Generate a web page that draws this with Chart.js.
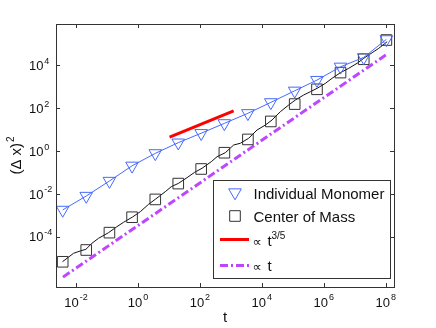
<!DOCTYPE html>
<html>
<head>
<meta charset="utf-8">
<script src="https://cdn.jsdelivr.net/npm/chart.js@4.4.0/dist/chart.umd.min.js"></script>
<style>body{margin:0;background:#fff}</style>
</head>
<body>
<canvas id="myChart" width="436" height="328"></canvas>
<script>
// times where the markers sit (same for both series)
var tMarks = [0.00372, 0.0214, 0.120, 0.646, 3.63, 20.0, 110, 617, 3550, 19500, 1.15e5, 6.03e5, 3.47e6, 1.95e7, 1.05e8];
var monomer = [0.00178, 0.00794, 0.0398, 0.204, 0.776, 2.45, 6.76, 19.5, 57.5, 186, 646, 2040, 8510, 23400, 1.62e5];
var centerMass = [6.76e-6, 2.40e-5, 1.55e-4, 8.13e-4, 5.50e-3, 0.0302, 0.145, 0.832, 3.47, 24.0, 155, 759, 4570, 19100, 1.51e5];

// the black trace of the center of mass
var tTrace = [3.66e-3, 8.30e-3, 1.37e-2, 2.09e-2, 3.27e-2, 5.33e-2, 0.112, 0.209, 0.343, 0.670, 1.19, 2.20, 3.62, 7.62, 11.9,
  20.5, 38.3, 67.5, 117, 233, 357, 662, 1230, 2020, 3750, 7000, 1.30e4, 2.14e4, 3.96e4, 7.35e4, 1.21e5, 2.24e5, 3.69e5,
  6.07e5, 1.13e6, 1.85e6, 3.44e6, 6.38e6, 1.19e7, 1.95e7, 3.64e7, 5.94e7, 1.11e8];
var cmTrace = [6.82e-6, 1.68e-5, 2.16e-5, 2.59e-5, 4.93e-5, 8.43e-5, 1.54e-4, 2.94e-4, 4.71e-4, 8.32e-4, 1.47e-3, 3.26e-3, 5.57e-3, 1.26e-2, 2.16e-2,
  3.11e-2, 5.68e-2, 0.101, 0.156, 0.317, 0.542, 0.834, 1.91, 2.29, 3.92, 9.55, 16.3, 28.0, 68.2, 140, 240, 410, 585,
  843, 1440, 2470, 4510, 7230, 1.24e4, 2.12e4, 3.86e4, 6.19e4, 1.26e5];

// guide lines
var tRed = [10.5, 1230];
var yRed = [4.4, 74];
var tPurple = [0.0038, 1e8];
var yPurple = [1.3e-6, 3e4];

var xTicks = [1e-2, 1, 1e2, 1e4, 1e6, 1e8];
var xTickExp = ['-2', '0', '2', '4', '6', '8'];
var yTicks = [1e-4, 1e-2, 1, 1e2, 1e4];
var yTickExp = ['-4', '-2', '0', '2', '4'];

var blue = 'rgb(70,105,255)';
var purple = 'rgb(190,70,255)';
var fontName = '"Liberation Sans", Arial, sans-serif';

function toXY(xs, ys) {
    return xs.map((x, i) => ({x: x, y: ys[i]}));
}

var framePlugin = {
    id: 'frame',
    afterDatasetsDraw(chart) {
        let ctx = chart.ctx;
        let a = chart.chartArea;
        let xs = chart.scales.x;
        let ys = chart.scales.y;
        ctx.save();
        ctx.strokeStyle = '#333';
        ctx.lineWidth = 1;
        ctx.strokeRect(Math.round(a.left) + 0.5, Math.round(a.top) + 0.5, Math.round(a.right - a.left), Math.round(a.bottom - a.top));

        // tick marks inside the box, all four sides
        ctx.beginPath();
        xTicks.forEach(v => {
            let px = Math.round(xs.getPixelForValue(v)) + 0.5;
            ctx.moveTo(px, a.bottom); ctx.lineTo(px, a.bottom - 4);
            ctx.moveTo(px, a.top); ctx.lineTo(px, a.top + 4);
        });
        yTicks.forEach(v => {
            let py = Math.round(ys.getPixelForValue(v)) + 0.5;
            ctx.moveTo(a.left, py); ctx.lineTo(a.left + 4, py);
            ctx.moveTo(a.right, py); ctx.lineTo(a.right - 4, py);
        });
        ctx.stroke();

        // tick labels 10^n
        ctx.fillStyle = '#111';
        ctx.textBaseline = 'alphabetic';
        xTicks.forEach((v, i) => {
            let px = xs.getPixelForValue(v);
            ctx.font = '13px ' + fontName;
            let w1 = ctx.measureText('10').width;
            ctx.font = '9px ' + fontName;
            let w2 = ctx.measureText(xTickExp[i]).width;
            let x0 = px - (w1 + w2 + 1) / 2;
            ctx.textAlign = 'left';
            ctx.font = '13px ' + fontName;
            ctx.fillText('10', x0, a.bottom + 19.5);
            ctx.font = '9px ' + fontName;
            ctx.fillText(xTickExp[i], x0 + w1 + 1, a.bottom + 13);
        });
        yTicks.forEach((v, i) => {
            let py = ys.getPixelForValue(v);
            ctx.font = '13px ' + fontName;
            ctx.textAlign = 'right';
            ctx.fillText('10', 43.5, py + 4.7);
            ctx.font = '9px ' + fontName;
            ctx.textAlign = 'left';
            ctx.fillText(yTickExp[i], 44.3, py - 1.5);
        });

        // axis titles
        ctx.font = '15px ' + fontName;
        ctx.textAlign = 'center';
        ctx.fillText('t', (a.left + a.right) / 2, 322);

        ctx.save();
        ctx.translate(21, (a.top + a.bottom) / 2);
        ctx.rotate(-Math.PI / 2);
        ctx.font = '15px ' + fontName;
        let wm = ctx.measureText('(\u0394 x)').width;
        ctx.font = '10px ' + fontName;
        let we = ctx.measureText('2').width;
        let s = -(wm + we + 1) / 2;
        ctx.textAlign = 'left';
        ctx.font = '15px ' + fontName;
        ctx.fillText('(\u0394 x)', s, 0);
        ctx.font = '10px ' + fontName;
        ctx.fillText('2', s + wm + 1, -7);
        ctx.restore();

        // legend
        let bx = 213.5, by = 180.5, bw = 177, bh = 98;
        ctx.fillStyle = '#fff';
        ctx.fillRect(bx, by, bw, bh);
        ctx.strokeStyle = '#333';
        ctx.strokeRect(bx, by, bw, bh);

        ctx.fillStyle = 'rgba(0,0,0,0)';
        ctx.strokeStyle = blue;
        ctx.lineWidth = 1;
        Chart.helpers.drawPoint(ctx, {pointStyle: 'triangle', rotation: 180, radius: 7.3, borderWidth: 1}, 235, 192.5);
        ctx.strokeStyle = '#333';
        Chart.helpers.drawPoint(ctx, {pointStyle: 'rect', rotation: 0, radius: 7.5, borderWidth: 1}, 235, 216);

        ctx.lineWidth = 3;
        ctx.strokeStyle = 'rgb(255,0,0)';
        ctx.beginPath();
        ctx.moveTo(220, 239.5); ctx.lineTo(249, 239.5);
        ctx.stroke();
        ctx.strokeStyle = purple;
        ctx.setLineDash([8, 3, 2, 3]);
        ctx.beginPath();
        ctx.moveTo(220, 265.5); ctx.lineTo(249, 265.5);
        ctx.stroke();
        ctx.setLineDash([]);

        ctx.fillStyle = '#111';
        ctx.textAlign = 'left';
        ctx.font = '15px ' + fontName;
        ctx.fillText('Individual Monomer', 253.5, 199);
        ctx.fillText('Center of Mass', 253.5, 221.5);
        ctx.font = '13px "DejaVu Sans", sans-serif';
        ctx.fillText('\u221D', 252.5, 246);
        ctx.font = '15px ' + fontName;
        ctx.fillText('t', 267.5, 246);
        ctx.font = '10px ' + fontName;
        ctx.fillText('3/5', 271.5, 239);
        ctx.font = '13px "DejaVu Sans", sans-serif';
        ctx.fillText('\u221D', 252.5, 271);
        ctx.font = '15px ' + fontName;
        ctx.fillText('t', 267.5, 271);
        ctx.restore();
    }
};

var ctx = document.getElementById('myChart').getContext('2d');
var myChart = new Chart(ctx, {
    type: 'scatter',
    data: {
        datasets: [{
            label: 'Individual Monomer',
            data: toXY(tMarks, monomer),
            showLine: true,
            borderColor: blue,
            borderWidth: 1,
            pointStyle: 'triangle',
            rotation: 180,
            pointRadius: 7.3,
            pointBorderWidth: 1,
            pointBorderColor: blue,
            pointBackgroundColor: 'rgba(0,0,0,0)',
            order: 1
        },
        {
            label: 'Center of Mass',
            data: toXY(tMarks, centerMass),
            showLine: false,
            pointStyle: 'rect',
            pointRadius: 7.5,
            pointBorderWidth: 1,
            pointBorderColor: '#333',
            pointBackgroundColor: 'rgba(0,0,0,0)',
            order: 2
        },
        {
            label: 'trace',
            data: toXY(tTrace, cmTrace),
            showLine: true,
            borderColor: '#111',
            borderWidth: 1,
            pointRadius: 0,
            order: 3
        },
        {
            label: 't^3/5',
            data: toXY(tRed, yRed),
            showLine: true,
            borderColor: 'rgb(255,0,0)',
            borderWidth: 3,
            pointRadius: 0,
            order: 4
        },
        {
            label: 't',
            data: toXY(tPurple, yPurple),
            showLine: true,
            borderColor: purple,
            borderWidth: 3,
            borderDash: [8, 3, 2, 3],
            pointRadius: 0,
            order: 5
        }]
    },
    options: {
        responsive: false,
        animation: false,
        layout: {padding: {left: 0, top: 24, right: 42, bottom: 0}},
        plugins: {legend: {display: false}, tooltip: {enabled: false}},
        scales: {
            x: {
                type: 'logarithmic',
                min: 2.26e-3,
                max: 1.85e8,
                grid: {display: false},
                border: {display: false},
                ticks: {display: false},
                afterFit: s => { s.height = 41; }
            },
            y: {
                type: 'logarithmic',
                min: 4.5e-7,
                max: 8.46e5,
                grid: {display: false},
                border: {display: false},
                ticks: {display: false},
                afterFit: s => { s.width = 56; }
            }
        }
    },
    plugins: [framePlugin]
});
</script>
</body>
</html>
